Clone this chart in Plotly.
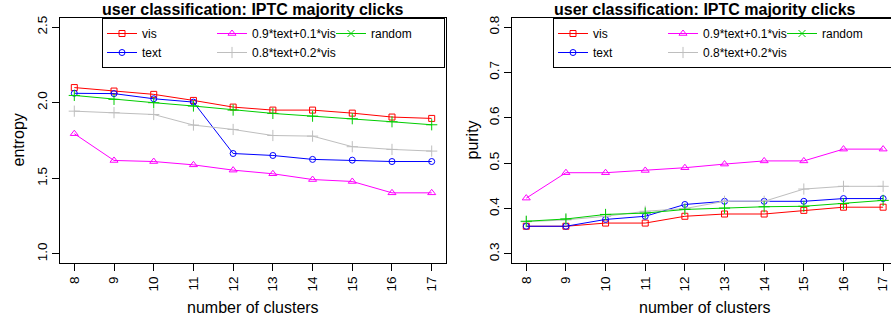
import plotly.graph_objects as go

clusters = [8, 9, 10, 11, 12, 13, 14, 15, 16, 17]

# entropy (left panel)
ent_vis = [2.10, 2.077, 2.055, 2.015, 1.971, 1.951, 1.951, 1.931, 1.905, 1.896]
ent_text = [2.062, 2.060, 2.026, 2.004, 1.664, 1.651, 1.625, 1.620, 1.611, 1.611]
ent_09 = [1.795, 1.618, 1.611, 1.589, 1.554, 1.530, 1.492, 1.479, 1.404, 1.404]
ent_08 = [1.944, 1.934, 1.922, 1.852, 1.823, 1.783, 1.779, 1.709, 1.691, 1.680]
ent_random = [2.048, 2.022, 2.000, 1.978, 1.951, 1.929, 1.911, 1.894, 1.874, 1.854]

# purity (right panel)
pur_vis = [0.361, 0.361, 0.368, 0.368, 0.383, 0.388, 0.388, 0.396, 0.403, 0.403]
pur_text = [0.361, 0.361, 0.376, 0.383, 0.409, 0.416, 0.416, 0.416, 0.422, 0.422]
pur_09 = [0.423, 0.479, 0.479, 0.484, 0.490, 0.498, 0.505, 0.505, 0.531, 0.531]
pur_08 = [0.371, 0.375, 0.383, 0.394, 0.400, 0.416, 0.416, 0.443, 0.449, 0.449]
pur_random = [0.372, 0.377, 0.387, 0.390, 0.398, 0.401, 0.404, 0.405, 0.411, 0.418]

title_text = "user classification: IPTC majority clicks"
names = ["vis", "text", "0.9*text+0.1*vis", "0.8*text+0.2*vis", "random"]

W, H = 891, 322
FONT = "Liberation Sans, Arial, Helvetica, sans-serif"

styles = {
    "vis": dict(color="#FF0000", symbol="square-open", size=6, group="g1", rank=1, lw=65),
    "text": dict(color="#0000FF", symbol="circle-open", size=6, group="g1", rank=2, lw=65),
    "0.9*text+0.1*vis": dict(color="#FF00FF", symbol="triangle-up-open", size=7, group="g2", rank=3, lw=74),
    "0.8*text+0.2*vis": dict(color="#BEBEBE", symbol="cross-thin-open", size=8, group="g2", rank=4, lw=74),
    "random": dict(color="#00CD00", symbol="cross-thin-open", size=8, group="g3", rank=5, lw=68),
}

fig = go.Figure()

panels = [
    ("x", "y", "legend", [ent_vis, ent_text, ent_09, ent_08, ent_random]),
    ("x2", "y2", "legend2", [pur_vis, pur_text, pur_09, pur_08, pur_random]),
]
for xa, ya, lg, series in panels:
    for name, vals in zip(names, series):
        st = styles[name]
        is_random = name == "random"
        fig.add_trace(go.Scatter(
            x=clusters, y=vals, name=name, mode="lines+markers",
            xaxis=xa, yaxis=ya, legend=lg,
            line=dict(color=st["color"], width=1),
            marker=dict(symbol=st["symbol"], size=st["size"], color=st["color"],
                        line=dict(color=st["color"], width=1)),
            legendgroup=st["group"] + lg, legendrank=st["rank"], legendwidth=st["lw"],
            showlegend=not is_random,
        ))
    # legend entry for "random" uses an x glyph as in the original
    st = styles["random"]
    fig.add_trace(go.Scatter(
        x=[None], y=[None], name="random", mode="lines+markers",
        xaxis=xa, yaxis=ya, legend=lg,
        line=dict(color=st["color"], width=1),
        marker=dict(symbol="x-thin-open", size=7, color=st["color"],
                    line=dict(color=st["color"], width=1)),
        legendgroup=st["group"] + lg, legendrank=st["rank"],
        legendwidth=st["lw"], showlegend=True,
    ))

ytop = 1 - 18 / H
ybot = 1 - 263 / H
tickfont = dict(family=FONT, size=13.5, color="black")
axis_common = dict(showgrid=False, zeroline=False, showline=True, linecolor="black",
                   linewidth=1, ticks="outside", ticklen=7, tickcolor="black",
                   tickwidth=1, tickfont=tickfont, tickangle=-90)

legend_common = dict(orientation="h", xanchor="left", y=ytop, yanchor="top",
                     xref="paper", yref="paper", bgcolor="white", bordercolor="black",
                     borderwidth=1, font=dict(family=FONT, size=12, color="black"),
                     entrywidth=65, itemwidth=30, tracegroupgap=0, traceorder="grouped")

fig.update_layout(
    width=W, height=H,
    margin=dict(l=0, r=0, t=0, b=0, autoexpand=False),
    paper_bgcolor="white", plot_bgcolor="white",
    font=dict(family=FONT, color="black"),
    xaxis=dict(domain=[60 / W, 446 / W], range=[7.64, 17.36], tickvals=clusters,
               mirror=True, anchor="y", **axis_common),
    yaxis=dict(domain=[ybot, ytop], range=[0.94, 2.56], tickvals=[1.0, 1.5, 2.0, 2.5],
               ticktext=["1.0", "1.5", "2.0", "2.5"], mirror=True, anchor="x", **axis_common),
    xaxis2=dict(domain=[512 / W, 1.0], range=[7.64, 7.64 + (W - 512) / 39.65], tickvals=clusters,
                mirror=True, anchor="y2", **axis_common),
    yaxis2=dict(domain=[ybot, ytop], range=[0.28, 0.82], tickvals=[0.3, 0.4, 0.5, 0.6, 0.7, 0.8],
                mirror=False, anchor="x2", **axis_common),
    legend=dict(x=102 / W, **legend_common),
    legend2=dict(x=553 / W, **legend_common),
    showlegend=True,
)

ann = []
for cx in [(60 + 446) / 2, (512 + 897) / 2]:
    ann.append(dict(text="<b>" + title_text + "</b>", x=cx / W, y=1 - 10 / H, xref="paper", yref="paper",
                    showarrow=False, xanchor="center", yanchor="middle",
                    font=dict(family=FONT, size=16, color="black")))
    ann.append(dict(text="number of clusters", x=cx / W, y=1 - 307 / H, xref="paper", yref="paper",
                    showarrow=False, xanchor="center", yanchor="middle",
                    font=dict(family=FONT, size=16, color="black")))
ann.append(dict(text="entropy", x=18 / W, y=(ybot + ytop) / 2, xref="paper", yref="paper",
                showarrow=False, xanchor="center", yanchor="middle", textangle=-90,
                font=dict(family=FONT, size=16, color="black")))
ann.append(dict(text="purity", x=472 / W, y=(ybot + ytop) / 2, xref="paper", yref="paper",
                showarrow=False, xanchor="center", yanchor="middle", textangle=-90,
                font=dict(family=FONT, size=16, color="black")))
fig.update_layout(annotations=ann)

fig.write_html("out.html", config={"displayModeBar": False, "staticPlot": True},
               post_script="document.body.style.margin='0';document.body.style.overflow='hidden';")
